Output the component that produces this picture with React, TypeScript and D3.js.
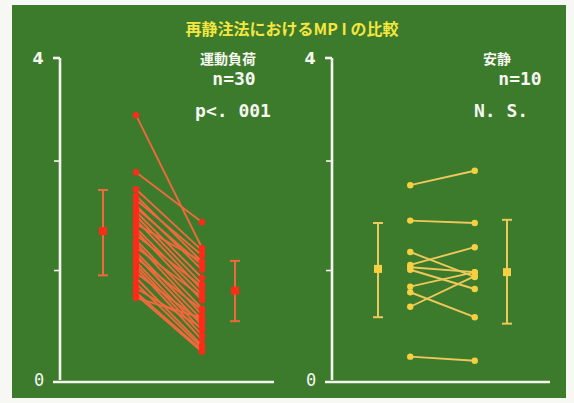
import React from "react";
import * as d3 from "d3";

const title = "再静注法におけるMP I の比較";
const positions = ["meanPre", "pre", "gap", "post", "meanPost"];

// Left panel: 運動負荷 n=30
const exercisePre = [3.29, 2.58, 2.37, 2.29, 2.24, 2.17, 2.14, 2.09, 2.04, 1.99, 1.94, 1.89, 1.85, 1.80, 1.74, 1.70, 1.65, 1.59, 1.55, 1.52, 1.47, 1.43, 1.39, 1.33, 1.27, 1.20, 1.14, 1.09, 1.06, 1.02];
const exercisePost = [1.64, 1.96, 1.61, 1.47, 1.55, 1.37, 1.43, 1.27, 1.19, 1.12, 1.47, 1.06, 0.99, 1.16, 0.89, 0.81, 1.03, 0.75, 0.68, 0.87, 0.62, 0.56, 0.50, 0.72, 0.43, 0.40, 0.65, 0.37, 0.35, 0.77];
const exerciseMean = [1.85, 1.11];
const exerciseSdLow = [1.30, 0.73];
const exerciseSdHigh = [2.36, 1.48];

// Right panel: 安静 n=10
const restPre = [2.42, 1.98, 1.59, 1.43, 1.40, 1.37, 1.16, 1.09, 0.91, 0.29];
const restPost = [2.60, 1.95, 1.28, 1.65, 1.34, 1.13, 1.34, 0.78, 1.29, 0.24];
const restMean = [1.38, 1.34];
const restSdLow = [0.78, 0.70];
const restSdHigh = [1.95, 1.99];

const yTickLabels = ["0", "4"];
const yMinorTicks = [1.36, 2.72];

type PanelProps = {
  axisX: number;
  xStart: number;
  xEnd: number;
  axisEnd: number;
  pre: number[];
  post: number[];
  mean: number[];
  lo: number[];
  hi: number[];
  lineColor: string;
  pointColor: string;
  label: string;
  nText: string;
  pText: string;
  labelX: number;
  nX: number;
  pX: number;
};

const y = d3.scaleLinear().domain([0, 4]).range([380, 58]);

function Panel(p: PanelProps) {
  const x = d3.scalePoint<string>().domain(positions).range([p.xStart, p.xEnd]);
  const xs = [x("meanPre")!, x("meanPost")!];
  const cap = 5;
  return (
    <g>
      <g stroke="#f4f6ee" strokeWidth={2.6} fill="none">
        <line x1={p.axisX} x2={p.axisX} y1={y(4)} y2={y(0)} />
        <line x1={p.axisX - 7} x2={p.axisX} y1={y(4)} y2={y(4)} />
        <line x1={p.axisX - 7} x2={p.axisEnd} y1={y(0) + 2} y2={y(0) + 2} />
        {yMinorTicks.map((t, i) => (
          <line key={i} x1={p.axisX - 6} x2={p.axisX} y1={y(t)} y2={y(t)} strokeWidth={1.6} />
        ))}
      </g>
      <text x={p.axisX - 22} y={y(4) + 6} fill="#f4f6ee" fontSize={16} fontWeight="bold" fontFamily="DejaVu Sans" textAnchor="middle">{yTickLabels[1]}</text>
      <text x={p.axisX - 21} y={y(0) + 6} fill="#f4f6ee" fontSize={17} fontFamily="DejaVu Sans Mono" textAnchor="middle">{yTickLabels[0]}</text>
      <g stroke={p.lineColor} strokeWidth={1.9}>
        {p.pre.map((v, i) => (
          <line key={i} x1={x("pre")!} y1={y(v)} x2={x("post")!} y2={y(p.post[i])} />
        ))}
      </g>
      <g fill={p.pointColor}>
        {p.pre.map((v, i) => (
          <circle key={"a" + i} cx={x("pre")!} cy={y(v)} r={3.2} />
        ))}
        {p.post.map((v, i) => (
          <circle key={"b" + i} cx={x("post")!} cy={y(v)} r={3.2} />
        ))}
      </g>
      {p.mean.map((m, i) => (
        <g key={"m" + i}>
          <g stroke={p.lineColor} strokeWidth={2}>
            <line x1={xs[i]} x2={xs[i]} y1={y(p.hi[i])} y2={y(p.lo[i])} />
            <line x1={xs[i] - cap} x2={xs[i] + cap} y1={y(p.hi[i])} y2={y(p.hi[i])} />
            <line x1={xs[i] - cap} x2={xs[i] + cap} y1={y(p.lo[i])} y2={y(p.lo[i])} />
          </g>
          <rect x={xs[i] - 4} y={y(m) - 4} width={8} height={8} fill={p.pointColor} />
        </g>
      ))}
      <text x={p.labelX} y={64} fill="#f6f6f0" fontSize={14} fontWeight="bold" fontFamily="Noto Sans CJK JP" textAnchor="middle">{p.label}</text>
      <text x={p.nX} y={85} fill="#f6f6f0" fontSize={18} fontWeight="bold" fontFamily="DejaVu Sans Mono" textAnchor="middle">{p.nText}</text>
      <text x={p.pX} y={117} fill="#f6f6f0" fontSize={18} fontWeight="bold" fontFamily="DejaVu Sans Mono" textAnchor="middle">{p.pText}</text>
    </g>
  );
}

export default function App() {
  return (
    <svg width={574} height={403} style={{ position: "absolute", left: 0, top: 0 }}>
      <rect x={0} y={0} width={574} height={403} fill="#f7f7f4" />
      <rect x={12} y={5} width={554} height={393} fill="#3c7a2c" />
      <text x={292} y={35} fill="#f4e640" fontSize={16} fontWeight="bold" fontFamily="Noto Sans CJK JP" textAnchor="middle">{title}</text>
      <Panel
        axisX={60} xStart={103} xEnd={235} axisEnd={274}
        pre={exercisePre} post={exercisePost} mean={exerciseMean} lo={exerciseSdLow} hi={exerciseSdHigh}
        lineColor="#ee6a3c" pointColor="#ff2a18"
        label="運動負荷" nText="n=30" pText="p<. 001" labelX={228} nX={234} pX={233}
      />
      <Panel
        axisX={332} xStart={378} xEnd={507} axisEnd={550}
        pre={restPre} post={restPost} mean={restMean} lo={restSdLow} hi={restSdHigh}
        lineColor="#eec85a" pointColor="#f6d040"
        label="安静" nText="n=10" pText="N. S." labelX={497} nX={520} pX={501}
      />
    </svg>
  );
}
